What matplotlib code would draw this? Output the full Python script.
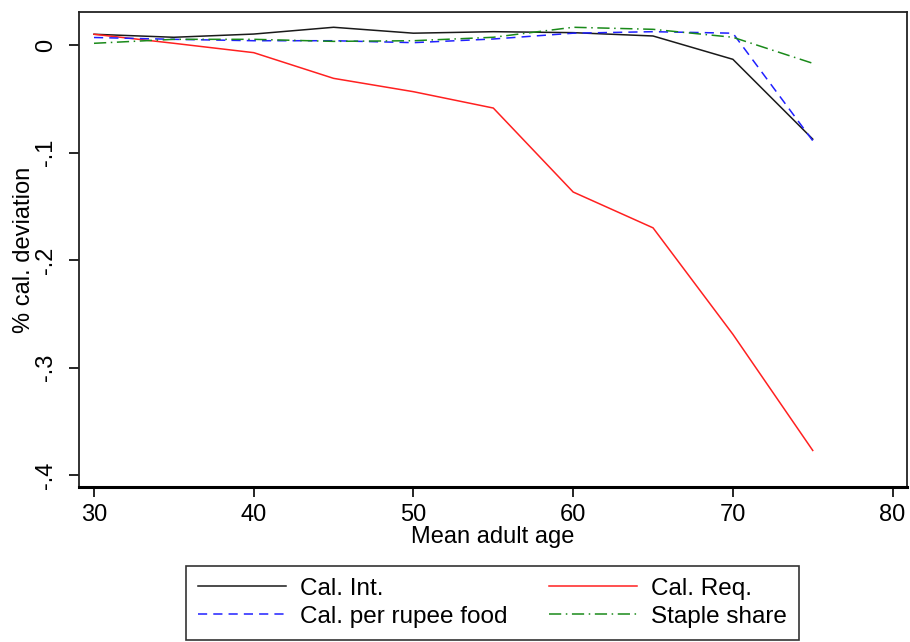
import matplotlib
matplotlib.use("Agg")
import matplotlib.pyplot as plt

plt.rcParams['font.family'] = ['Liberation Sans', 'DejaVu Sans']

# Data
age = [30, 35, 40, 45, 50, 55, 60, 65, 70, 75]
cal_int = [0.010, 0.0072, 0.0102, 0.0165, 0.011, 0.0124, 0.0115, 0.0084, -0.0133, -0.0875]
cal_req = [0.010, 0.0016, -0.0071, -0.031, -0.0434, -0.0586, -0.1367, -0.170, -0.269, -0.377]
cal_per_rupee = [0.007, 0.0053, 0.004, 0.004, 0.0022, 0.0056, 0.011, 0.0124, 0.011, -0.089]
staple_share = [0.0016, 0.0053, 0.0053, 0.0034, 0.004, 0.0072, 0.0165, 0.0146, 0.0072, -0.017]

xticks = [30, 40, 50, 60, 70, 80]
yticks = [0, -0.1, -0.2, -0.3, -0.4]
ytick_labels = ['0', '-.1', '-.2', '-.3', '-.4']

fs = 17

fig = plt.figure(figsize=(9.1, 6.42), dpi=100)
ax = fig.add_axes([0.0868, 0.2414, 0.9099, 0.7399])

ax.plot(age, cal_int, color='#1a1a1a', lw=1.1, label='Cal. Int.')
ax.plot(age, cal_req, color='#ff2020', lw=1.1, label='Cal. Req.')
ax.plot(age, cal_per_rupee, color='#2020ff', lw=1.1, ls=(0, (6, 4)), label='Cal. per rupee food')
ax.plot(age, staple_share, color='#1a8a1a', lw=1.1, ls=(0, (8, 3, 1, 3)), label='Staple share')

ax.set_xlim(29.06, 80.9)
ax.set_ylim(-0.411, 0.0307)
ax.set_xticks(xticks)
ax.set_yticks(yticks)
ax.set_yticklabels(ytick_labels, rotation=90, va='center')
ax.tick_params(axis='both', labelsize=fs, length=7, width=1.2, colors='black')
ax.tick_params(axis='x', pad=5)
ax.tick_params(axis='y', pad=9)
ax.set_xlabel('Mean adult age', fontsize=fs, labelpad=0)
ax.set_ylabel('% cal. deviation', fontsize=fs, labelpad=0)
for side in ['top', 'right', 'left']:
    ax.spines[side].set_linewidth(1.3)
    ax.spines[side].set_color('#222222')
ax.spines['bottom'].set_linewidth(2.2)

handles, labels = ax.get_legend_handles_labels()
order = [0, 2, 1, 3]
leg = fig.legend([handles[i] for i in order], [labels[i] for i in order],
                 ncol=2, loc='lower left', bbox_to_anchor=(186 / 910, 2 / 642),
                 borderaxespad=0, fontsize=17.5, handlelength=3.6,
                 handletextpad=0.6, columnspacing=1.7,
                 frameon=True, fancybox=False, edgecolor='black',
                 borderpad=0.5, labelspacing=0.25)
leg.get_frame().set_linewidth(1.2)

fig.savefig('out.png', dpi=100)
